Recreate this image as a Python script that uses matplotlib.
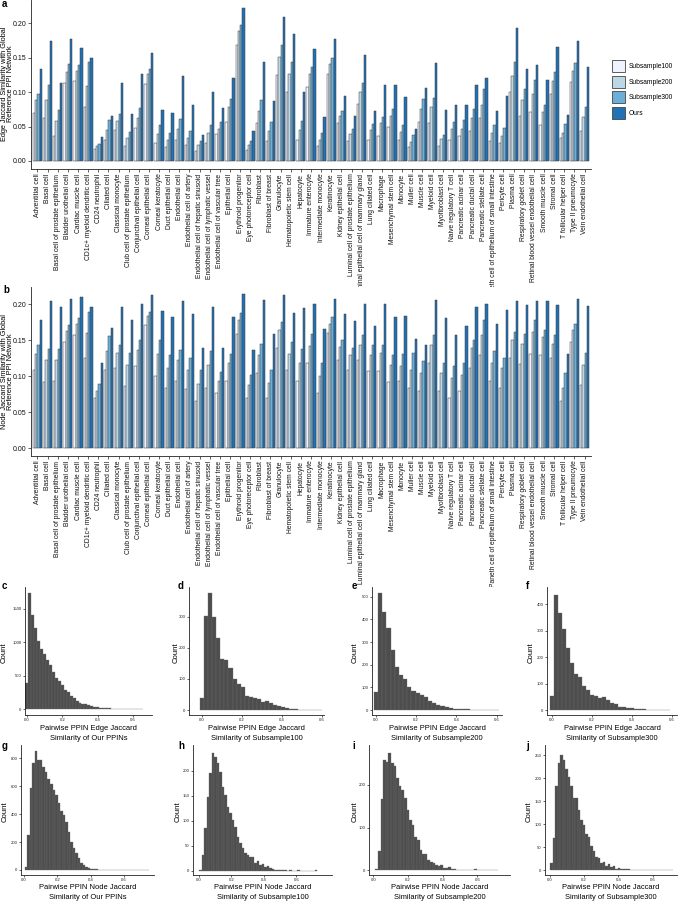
import numpy as np
import matplotlib
matplotlib.use('Agg')
import matplotlib.pyplot as plt
from matplotlib.patches import Patch

plt.rcParams['font.family'] = ['Liberation Sans', 'DejaVu Sans']

cell_types = ["Adventitial cell", "Basal cell", "Basal cell of prostate epithelium", "Bladder urothelial cell",
              "Cardiac muscle cell", "CD1c+ myeloid dendritic cell", "CD24 neutrophil", "Ciliated cell",
              "Classical monocyte", "Club cell of prostate epithelium", "Conjunctival epithelial cell",
              "Corneal epithelial cell", "Corneal keratocyte", "Duct epithelial cell", "Endothelial cell",
              "Endothelial cell of artery", "Endothelial cell of hepatic sinusoid",
              "Endothelial cell of lymphatic vessel", "Endothelial cell of vascular tree", "Epithelial cell",
              "Erythroid progenitor", "Eye photoreceptor cell", "Fibroblast", "Fibroblast of breast",
              "Granulocyte", "Hematopoietic stem cell", "Hepatocyte", "Immature enterocyte",
              "Intermediate monocyte", "Keratinocyte", "Kidney epithelial cell",
              "Luminal cell of prostate epithelium", "Luminal epithelial cell of mammary gland",
              "Lung ciliated cell", "Macrophage", "Mesenchymal stem cell", "Monocyte", "Muller cell",
              "Muscle cell", "Myeloid cell", "Myofibroblast cell", "Naive regulatory T cell",
              "Pancreatic acinar cell", "Pancreatic ductal cell", "Pancreatic stellate cell",
              "Paneth cell of epithelium of small intestine", "Pericyte cell", "Plasma cell",
              "Respiratory goblet cell", "Retinal blood vessel endothelial cell", "Smooth muscle cell",
              "Stromal cell", "T follicular helper cell", "Type II pneumocyte", "Vein endothelial cell"]

series_names = ["Subsample100", "Subsample200", "Subsample300", "Ours"]

edge_s100 = [.070, .062, .036, .113, .116, .078, .018, .031, .045, .022, .048, .112, .026, .020, .031, .023, .014,
             .026, .039, .057, .169, .016, .055, .029, .125, .100, .031, .107, .022, .126, .055, .029, .083, .031,
             .037, .050, .031, .020, .057, .055, .022, .031, .036, .043, .063, .029, .026, .101, .065, .071, .053,
             .098, .034, .115, .043]
edge_s200 = [.089, .088, .058, .129, .131, .109, .022, .045, .058, .033, .063, .127, .039, .031, .047, .033, .023,
             .040, .047, .079, .189, .023, .072, .044, .151, .126, .045, .126, .031, .141, .065, .039, .100, .045,
             .055, .065, .042, .028, .075, .078, .032, .046, .046, .063, .082, .040, .037, .124, .089, .098, .071,
             .116, .040, .131, .064]
edge_s300 = [.097, .110, .074, .141, .139, .144, .025, .059, .068, .042, .077, .134, .052, .041, .061, .043, .029,
             .053, .057, .090, .197, .029, .089, .056, .168, .144, .058, .136, .041, .150, .073, .046, .113, .054,
             .064, .075, .052, .038, .090, .092, .038, .057, .059, .075, .104, .052, .048, .144, .104, .117, .082,
             .129, .054, .142, .079]
edge_ours = [.133, .174, .113, .177, .164, .150, .035, .066, .114, .068, .126, .157, .074, .070, .123, .082, .038,
             .100, .077, .121, .223, .044, .144, .087, .209, .184, .101, .163, .064, .177, .095, .065, .154, .073,
             .111, .110, .093, .047, .106, .142, .074, .082, .082, .111, .121, .073, .094, .193, .134, .139, .117,
             .166, .067, .174, .137]

node_s100 = [.109, .092, .094, .147, .158, .126, .069, .109, .111, .086, .114, .171, .100, .084, .093, .082, .066,
             .084, .077, .093, .159, .069, .104, .069, .140, .108, .094, .119, .077, .160, .122, .109, .123, .107,
             .107, .092, .094, .083, .079, .119, .079, .070, .080, .112, .130, .094, .084, .126, .117, .131, .130,
             .125, .065, .147, .088]
node_s200 = [.131, .122, .122, .163, .173, .160, .079, .135, .133, .115, .137, .184, .131, .112, .122, .108, .089,
             .115, .094, .118, .179, .088, .130, .090, .164, .131, .119, .142, .100, .173, .141, .129, .144, .129,
             .132, .115, .114, .108, .104, .143, .104, .097, .102, .140, .157, .118, .111, .150, .145, .161, .154,
             .145, .083, .164, .116]
node_s300 = [.143, .138, .138, .171, .181, .190, .089, .156, .144, .133, .150, .190, .151, .130, .136, .126, .108,
             .135, .106, .131, .188, .102, .145, .108, .175, .147, .138, .159, .119, .182, .151, .140, .157, .143,
             .143, .130, .131, .133, .121, .157, .119, .114, .119, .151, .178, .135, .126, .162, .159, .178, .165,
             .158, .104, .173, .133]
node_ours = [.179, .205, .196, .207, .210, .197, .119, .167, .196, .178, .201, .213, .191, .182, .205, .187, .139,
             .196, .139, .182, .214, .137, .206, .159, .213, .188, .195, .200, .166, .208, .187, .177, .200, .170,
             .201, .183, .184, .152, .143, .206, .181, .157, .170, .197, .201, .173, .192, .205, .199, .205, .205,
             .199, .131, .208, .198]

# Histogram bin counts (bins evenly spaced between first and last bin centre)
hist_c_counts = [386, 1742, 1406, 1213, 1015, 900, 832, 742, 663, 554, 470, 420, 356, 290, 257, 200, 160, 120, 99,
                 85, 74, 60, 54, 40, 32, 25, 20, 15, 12, 10, 8, 5, 4, 3, 2, 2, 1, 1, 1, 1]
hist_c_range = (0.0, 0.65)
hist_d_counts = [38, 302, 375, 300, 232, 165, 160, 135, 100, 84, 75, 45, 42, 40, 35, 25, 28, 22, 15, 13, 9, 5, 3,
                 2, 1, 1, 0, 1, 1, 1]
hist_d_range = (0.0, 0.59)
hist_e_counts = [78, 517, 431, 360, 265, 188, 154, 137, 103, 84, 74, 66, 59, 41, 29, 21, 18, 12, 9, 6, 4, 4, 3, 2,
                 1, 1, 1, 0, 1, 1]
hist_e_range = (0.0, 0.60)
hist_f_counts = [53, 435, 366, 306, 234, 178, 137, 125, 93, 78, 59, 53, 46, 50, 40, 28, 23, 13, 15, 8, 10, 7, 6, 4,
                 3, 2, 1, 0, 0, 2]
hist_f_range = (0.0, 0.58)
hist_g_counts = [24, 250, 585, 765, 853, 789, 789, 741, 705, 650, 617, 574, 538, 478, 425, 394, 347, 275, 203, 155,
                 120, 84, 53, 36, 24, 17, 10, 7, 5, 3, 2, 2, 1, 1, 1, 1, 0, 1, 0, 0, 1, 0, 0, 0, 0, 0, 0, 0, 1]
hist_g_range = (0.012, 0.74)
hist_h_counts = [2, 31, 85, 147, 195, 236, 228, 215, 198, 168, 151, 128, 115, 101, 88, 68, 55, 45, 35, 31, 28, 27,
                 15, 20, 11, 13, 8, 9, 5, 4, 2, 2, 1, 1, 1, 0, 1, 0, 0, 1, 0, 0, 0, 0, 0, 0, 1]
hist_h_range = (0.01, 0.72)
hist_i_counts = [3, 44, 166, 258, 254, 275, 250, 243, 216, 196, 188, 169, 142, 118, 107, 79, 72, 48, 38, 37, 25, 19,
                 17, 13, 9, 13, 5, 5, 7, 3, 2, 1, 1, 0, 1, 0, 0, 1, 2, 0, 0, 0, 0, 0, 0, 0, 1]
hist_i_range = (0.02, 0.71)
hist_j_counts = [16, 70, 182, 232, 250, 239, 221, 203, 182, 156, 156, 131, 110, 99, 79, 73, 52, 43, 30, 27, 16, 19,
                 10, 13, 7, 9, 4, 5, 3, 4, 2, 2, 1, 1, 1, 0, 1, 0, 0, 0, 0, 0, 0, 0, 0, 0, 0, 0, 1]
hist_j_range = (0.01, 0.71)

W, H = 678.0, 902.0
fig = plt.figure(figsize=(6.78, 9.02), dpi=100)


def px_axes(l, t, r, b):
    return fig.add_axes([l / W, 1 - b / H, (r - l) / W, (b - t) / H])


def ftext(x, y, s, **kw):
    return fig.text(x / W, 1 - y / H, s, **kw)


colors = ['#eff3ff', '#bdd7e7', '#6baed6', '#2171b5']
AX_COL = '#222222'


def style_spines(ax, lw=0.6):
    for s in ['top', 'right']:
        ax.spines[s].set_visible(False)
    for s in ['left', 'bottom']:
        ax.spines[s].set_linewidth(lw)
        ax.spines[s].set_color(AX_COL)


def bar_panel(ax, series, ylim):
    n = len(cell_types)
    x = np.arange(1, n + 1)
    w = 0.225
    for k, vals in enumerate(series):
        ax.bar(x + (k - 1.5) * w, vals, width=w, color=colors[k], edgecolor='#3a3a3a', linewidth=0.35)
    ax.set_xlim(0.4, n + 0.6)
    ax.set_ylim(*ylim)
    yt = [0, 0.05, 0.10, 0.15, 0.20]
    ax.set_yticks(yt)
    ax.set_yticklabels(['%.2f' % v for v in yt], fontsize=5)
    ax.set_xticks(x)
    ax.set_xticklabels(cell_types, rotation=90, fontsize=4.85)
    ax.tick_params(axis='both', length=2, width=0.5, pad=1.5, colors=AX_COL, labelcolor='#111111')
    style_spines(ax)


ax_a = px_axes(31.4, 0, 590.6, 168.7)
bar_panel(ax_a, [edge_s100, edge_s200, edge_s300, edge_ours], (-0.0112, 0.234))
ftext(7.5, 84, "Edge Jaccard Similarity with Global\nReference PPI Network", rotation=90, ha='center',
      va='center', fontsize=5.3, linespacing=0.95, multialignment='center')
ax_b = px_axes(31.4, 286.7, 590.6, 455.7)
bar_panel(ax_b, [node_s100, node_s200, node_s300, node_ours], (-0.0107, 0.2247))
ftext(7.5, 372, "Node Jaccard Similarity with Global\nReference PPI Network", rotation=90, ha='center',
      va='center', fontsize=5.3, linespacing=0.95, multialignment='center')

handles = [Patch(facecolor=colors[k], edgecolor='#444444', linewidth=0.6, label=series_names[k]) for k in range(4)]
fig.legend(handles=handles, loc='upper left', bbox_to_anchor=(612 / W, 1 - 60 / H), frameon=False,
           fontsize=4.8, handlelength=2.0, handleheight=2.4, labelspacing=0.55, handletextpad=0.55,
           borderaxespad=0, borderpad=0)


def hist_panel(box, counts, rng, xlim, ylim, yticks, xlabel, count_x, label_y):
    ax = px_axes(*box)
    counts = np.asarray(counts, dtype=float)
    centers = np.linspace(rng[0], rng[1], len(counts))
    width = (rng[1] - rng[0]) / (len(counts) - 1)
    ax.bar(centers, counts, width=width, color='#4d4d4d', edgecolor='#6a6a6a', linewidth=0.25)
    ax.set_xlim(*xlim)
    ax.set_ylim(*ylim)
    ax.set_xticks([0.0, 0.2, 0.4, 0.6])
    ax.set_xticklabels(['0.0', '0.2', '0.4', '0.6'])
    ax.set_yticks(yticks)
    ax.tick_params(axis='both', length=1.5, width=0.5, pad=1.0, labelsize=3.1, colors=AX_COL,
                   labelcolor='#222222')
    style_spines(ax)
    l, t, r, b = box
    ftext(count_x, (t + b) / 2 + 2, 'Count', rotation=90, ha='center', va='center', fontsize=5.6)
    cx = (l + r) / 2
    lines = xlabel.split('\n')
    ftext(cx, label_y, lines[0], ha='center', va='center', fontsize=5.4)
    ftext(cx, label_y + 10, lines[1], ha='center', va='center', fontsize=5.4)
    return ax


hist_panel((25, 587, 152, 715), hist_c_counts, hist_c_range, (-0.011, 0.707), (-87, 1829), [0, 500, 1000, 1500],
           "Pairwise PPIN Edge Jaccard\nSimilarity of Our PPINs", 4.5, 729)
hist_panel((189, 587, 324, 715), hist_d_counts, hist_d_range, (-0.065, 0.61), (-16, 395), [0, 100, 200, 300],
           "Pairwise PPIN Edge Jaccard\nSimilarity of Subsample100", 176.0, 729)
hist_panel((372, 587, 502, 715), hist_e_counts, hist_e_range, (-0.02, 0.627), (-22, 543),
           [0, 100, 200, 300, 400, 500], "Pairwise PPIN Edge Jaccard\nSimilarity of Subsample200", 355, 729)
hist_panel((547, 587, 677, 715), hist_f_counts, hist_f_range, (-0.023, 0.627), (-17, 465),
           [0, 100, 200, 300, 400], "Pairwise PPIN Edge Jaccard\nSimilarity of Subsample300", 531, 729)
hist_panel((21, 745, 154, 875), hist_g_counts, hist_g_range, (-0.018, 0.78), (-36, 895),
           [0, 200, 400, 600, 800], "Pairwise PPIN Node Jaccard\nSimilarity of Our PPINs", 5, 887.5)
hist_panel((193, 745, 332, 875), hist_h_counts, hist_h_range, (-0.037, 0.82), (-9, 251),
           [0, 50, 100, 150, 200], "Pairwise PPIN Node Jaccard\nSimilarity of Subsample100", 178.5, 887.5)
hist_panel((369, 745, 510, 875), hist_i_counts, hist_i_range, (-0.025, 0.789), (-11, 293),
           [0, 100, 200], "Pairwise PPIN Node Jaccard\nSimilarity of Subsample200", 355, 887.5)
hist_panel((545, 745, 677, 875), hist_j_counts, hist_j_range, (-0.029, 0.742), (-10, 272),
           [0, 50, 100, 150, 200, 250], "Pairwise PPIN Node Jaccard\nSimilarity of Subsample300", 529, 887.5)

letters = [('a', 2, 4), ('b', 3, 290), ('c', 2, 586), ('d', 178, 586), ('e', 352, 586), ('f', 526, 586),
           ('g', 2, 746), ('h', 178, 746), ('i', 352, 746), ('j', 526, 746)]
for s, x, y in letters:
    ftext(x, y, s, fontsize=7, fontweight='bold', ha='left', va='center')

fig.savefig('out.png', dpi=100)
